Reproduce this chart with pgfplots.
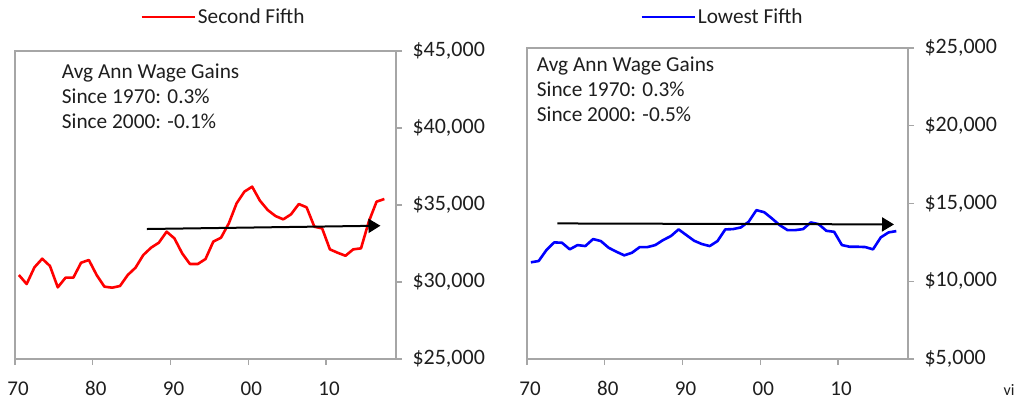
\documentclass[border=0pt]{standalone}
\usepackage{fontspec}
\setmainfont{Carlito}
\usepackage{pgfplots}
\pgfplotsset{compat=1.18}
\usetikzlibrary{arrows.meta}
\definecolor{axgray}{RGB}{166,166,166}
\definecolor{txt}{RGB}{30,30,30}
\pgfplotsset{
  panel/.style={
    scale only axis, anchor=south west,
    xmin=1970, xmax=2019,
    axis line style={draw=axgray, line width=1.2pt},
    tick style={draw=axgray, line width=1.2pt},
    tick align=outside, major tick length=6pt,
    xtick={1970,1980,1990,2000,2010},
    xticklabels={70,80,90,00,10},
    xtick pos=bottom, ytick pos=right, yticklabel pos=right,
    scaled y ticks=false,
    /pgf/number format/assume math mode=true,
    /pgf/number format/1000 sep={,},
    /pgf/number format/fixed,
    yticklabel={\$\pgfmathprintnumber{\tick}},
    yticklabel style={anchor=west, xshift=7pt, font=\fontsize{22}{26}\selectfont, text=txt},
    xticklabel style={yshift=-13pt, xshift=3pt, font=\fontsize{21}{25}\selectfont, text=txt},
    legend style={draw=none, fill=none, inner sep=0pt, font=\fontsize{21.3}{25}\selectfont,
      nodes={inner sep=2pt, text=txt}},
    legend image code/.code={\draw[#1] (0pt,0pt) -- (53pt,0pt);},
  }
}
\begin{document}
\begin{tikzpicture}
\path[use as bounding box] (0,0) rectangle (1022pt,400pt);
% Left panel
\begin{axis}[panel, at={(15pt,41pt)}, width=381pt, height=308pt,
  ymin=25000, ymax=45000, ytick={25000,30000,35000,40000,45000},
  legend style={at={(0.547,1.110)}, anchor=center}]
\addplot[red, line width=2.6pt, line join=round] coordinates {
(1970.5,30454) (1971.5,29869) (1972.5,30953) (1973.5,31512) (1974.5,31038)
(1975.5,29654) (1976.5,30280) (1977.5,30280) (1978.5,31253) (1979.5,31427)
(1980.5,30454) (1981.5,29697) (1982.5,29632) (1983.5,29740) (1984.5,30454)
(1985.5,30930) (1986.5,31752) (1987.5,32228) (1988.5,32553) (1989.5,33267)
(1990.5,32835) (1991.5,31861) (1992.5,31167) (1993.5,31167) (1994.5,31492)
(1995.5,32619) (1996.5,32879) (1997.5,33810) (1998.5,35108) (1999.5,35866)
(2000.5,36191) (2001.5,35281) (2002.5,34675) (2003.5,34285) (2004.5,34069)
(2005.5,34394) (2006.5,35064) (2007.5,34849) (2008.5,33590) (2009.5,33482)
(2010.5,32120) (2011.5,31899) (2012.5,31705) (2013.5,32120) (2014.5,32185)
(2015.5,33917) (2016.5,35216) (2017.5,35390)
};
\addlegendentry{Second Fifth}
\addplot[black, line width=2pt, -{Triangle[length=12pt,width=14pt]}, forget plot]
  coordinates {(1986.95,33441) (2017.0,33655)};
\end{axis}
% Right panel
\begin{axis}[panel, at={(527pt,41pt)}, width=381pt, height=311pt,
  ymin=5000, ymax=25000, ytick={5000,10000,15000,20000,25000},
  legend style={at={(0.513,1.0997)}, anchor=center}]
\addplot[blue, line width=2.6pt, line join=round] coordinates {
(1970.5,11218) (1971.5,11302) (1972.5,12007) (1973.5,12500) (1974.5,12475)
(1975.5,12052) (1976.5,12327) (1977.5,12263) (1978.5,12712) (1979.5,12584)
(1980.5,12155) (1981.5,11898) (1982.5,11667) (1983.5,11834) (1984.5,12199)
(1985.5,12199) (1986.5,12327) (1987.5,12648) (1988.5,12904) (1989.5,13334)
(1990.5,12968) (1991.5,12603) (1992.5,12391) (1993.5,12263) (1994.5,12584)
(1995.5,13334) (1996.5,13353) (1997.5,13462) (1998.5,13821) (1999.5,14571)
(2000.5,14443) (2001.5,14039) (2002.5,13609) (2003.5,13289) (2004.5,13289)
(2005.5,13353) (2006.5,13782) (2007.5,13673) (2008.5,13244) (2009.5,13180)
(2010.5,12327) (2011.5,12219) (2012.5,12219) (2013.5,12199) (2014.5,12052)
(2015.5,12821) (2016.5,13142) (2017.5,13225)
};
\addlegendentry{Lowest Fifth}
\addplot[black, line width=2pt, -{Triangle[length=12pt,width=14pt]}, forget plot]
  coordinates {(1973.9,13718) (2017.2,13654)};
\end{axis}
\node[anchor=base west, inner sep=0pt, align=left, text=txt,
  font=\fontsize{21.3}{25}\selectfont] at (61.7pt,271.7pt)
  {Avg Ann Wage Gains\\Since 1970: 0.3\%\\Since 2000: -0.1\%};
\node[anchor=base west, inner sep=0pt, align=left, text=txt,
  font=\fontsize{21.3}{25}\selectfont] at (536.7pt,278.3pt)
  {Avg Ann Wage Gains\\Since 1970: 0.3\%\\Since 2000: -0.5\%};
\node[anchor=base, inner sep=0pt, text=txt, font=\fontsize{16}{18}\selectfont]
  at (1009pt,5pt) {vi};
\end{tikzpicture}
\end{document}
